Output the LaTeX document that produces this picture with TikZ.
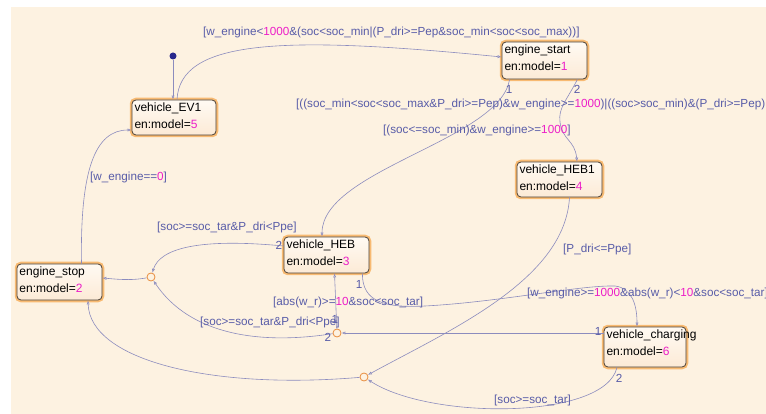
\documentclass[tikz,border=0pt]{standalone}
\usepackage{fontspec}
\setmainfont{Liberation Sans}
\usetikzlibrary{arrows.meta}
\definecolor{bgc}{RGB}{253,242,225}
\definecolor{lbl}{RGB}{88,92,168}
\definecolor{mag}{RGB}{236,30,200}
\definecolor{edgec}{RGB}{140,140,190}
\definecolor{juncc}{RGB}{232,140,60}
\definecolor{bord}{RGB}{75,65,55}
\definecolor{glow}{RGB}{245,150,40}
\definecolor{sttop}{RGB}{255,250,243}
\definecolor{stfill}{RGB}{252,234,214}
\definecolor{initc}{RGB}{40,40,140}
\newcommand{\mg}[1]{\textcolor{mag}{#1}}
\newcommand{\stxt}[4]{\parbox[c][#2][t]{#1}{#3\\en:model=\mg{#4}}}
\tikzset{
 st/.style={draw=bord, line width=0.8pt, rounded corners=4pt, top color=sttop, bottom color=stfill,
   inner xsep=2.5pt, inner ysep=2.5pt, font=\fontsize{12}{17}\selectfont,
   preaction={draw=glow, line width=4.5pt, draw opacity=0.6}},
 junc/.style={circle, draw=juncc, line width=0.8pt, minimum size=8pt, inner sep=0pt},
 initd/.style={circle, fill=initc, minimum size=7pt, inner sep=0pt},
 tr/.style={draw=edgec, line width=0.6pt, -{Latex[open,length=4pt,width=3.2pt]}},
 lab/.style={text=lbl, font=\fontsize{11.7}{13}\selectfont, inner sep=0pt, anchor=west},
 num/.style={text=lbl, font=\fontsize{11.7}{13}\selectfont, inner sep=0pt},
}
\begin{document}
\begin{tikzpicture}[x=1pt,y=-1pt]
\clip (0,0) rectangle (766,414);
\fill[bgc] (11,7) rectangle (766,414);

% states
\node[st] (ev1)  at (174,117.5) {\stxt{79pt}{30pt}{vehicle\_EV1}{5}};
\node[st] (es)   at (544.5,60.5) {\stxt{80pt}{32pt}{engine\_start}{1}};
\node[st] (heb1) at (559.5,179.5) {\stxt{80pt}{30pt}{vehicle\_HEB1}{4}};
\node[st] (heb)  at (326.5,255) {\stxt{80pt}{31pt}{vehicle\_HEB}{3}};
\node[st] (stop) at (59.5,282) {\stxt{80pt}{31pt}{engine\_stop}{2}};
\node[st] (chg)  at (645,347) {\stxt{77pt}{35pt}{vehicle\_charging}{6}};

% junctions
\node[junc] (j1) at (151,277) {};
\node[junc] (j2) at (337,333) {};
\node[junc] (j3) at (364,377) {};
\node[initd] (init) at (173,56) {};

% transitions
\draw[tr] (init) -- (init |- ev1.north);
\draw[tr] ([xshift=3pt]ev1.north) .. controls (180,40) and (280,35) .. ([yshift=3.5pt]es.west);
\draw[tr] ([xshift=8pt]es.south west) .. controls (500,140) and (322,170) .. ([xshift=-4.5pt]heb.north);
\draw[tr] ([xshift=-10pt]es.south east) .. controls (567,100) and (558,108) .. (560,122)
   .. controls (562,140) and (575,140) .. ([xshift=17.5pt]heb1.north);
\draw[tr] ([xshift=10pt]heb1.south) .. controls (565,280) and (450,330) .. (j3);
\draw[tr] ([yshift=9pt]heb.west) .. controls (200,238) and (160,248) .. (j1);
\draw[tr] (j1) .. controls (130,281) and (115,279) .. ([yshift=4pt]stop.east);
\draw[tr] ([xshift=22pt]stop.north) .. controls (80,170) and (95,130) .. ([yshift=-12.5pt]ev1.west);
\draw[tr] ([xshift=-7pt]heb.south east) .. controls (362,302) and (385,308) .. (425,306)
   .. controls (500,302) and (580,285) .. (615,286) .. controls (632,288) and (637,305) .. ([xshift=-8pt]chg.north);
\draw[tr] ([yshift=14pt]chg.west) -- (j2);
\draw[tr] (j2) -- ([xshift=8pt]heb.south);
\draw[tr] (j2) .. controls (260,345) and (190,335) .. (j1);
\draw[tr] ([xshift=-28pt]chg.south) .. controls (605,420) and (430,420) .. (j3);
\draw[tr] (j3) .. controls (210,390) and (90,360) .. ([xshift=28.5pt]stop.south);

% labels
\node[lab] (l1) at (203,33) {[w\_engine<\mg{1000}\&(soc<soc\_min|(P\_dri>=Pep\&soc\_min<soc<soc\_max))]};
\node[lab] (l2) at (296,105) {[((soc\_min<soc<soc\_max\&P\_dri>=Pep)\&w\_engine>=\mg{1000})|((soc>soc\_min)\&(P\_dri>=Pep)};
\node[lab] (l3) at (383,130) {[(soc<=soc\_min)\&w\_engine>=\mg{1000}]};
\node[lab] (l4) at (90,177) {[w\_engine==\mg{0}]};
\node[lab] (l5) at (157,227) {[soc>=soc\_tar\&P\_dri<Ppe]};
\node[lab] (l6) at (563,249) {[P\_dri<=Ppe]};
\node[lab] (l7) at (273,302) {[abs(w\_r)>=\mg{10}\&soc<soc\_tar]};
\node[lab] (l8) at (527,293) {[w\_engine>=\mg{1000}\&abs(w\_r)<\mg{10}\&soc<soc\_tar]};
\node[lab] (l9) at (200,322) {[soc>=soc\_tar\&P\_dri<Ppe]};
\node[lab] (l10) at (494,400) {[soc>=soc\_tar]};

% execution order numbers
\node[num] (n1) at (509,89) {1};
\node[num] (n2) at (577,89) {2};
\node[num] (n3) at (279,245) {2};
\node[num] (n4) at (359,284) {1};
\node[num] (n5) at (598,331) {1};
\node[num] (n6) at (619,378) {2};
\node[num] (n7) at (328,337) {2};
\node[num] (n8) at (335,319) {1};
\end{tikzpicture}
\end{document}
